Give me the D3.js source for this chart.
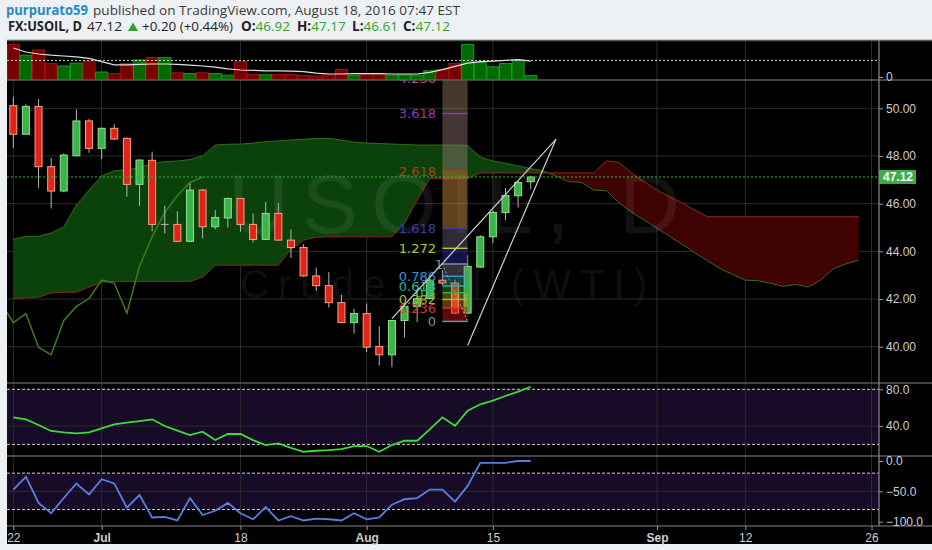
<!DOCTYPE html>
<html><head><meta charset="utf-8">
<script src="https://cdnjs.cloudflare.com/ajax/libs/d3/7.8.5/d3.min.js"></script>
<style>body{margin:0;background:#eef1f4;}svg{display:block}</style>
</head><body>
<svg id="c" width="932" height="550"></svg>
<script>
// ---------- DATA ----------
const opens  = [50.11,48.91,50.08,47.55,46.53,48.01,49.47,48.32,49.16,48.74,46.81,47.82,45.13,45.13,44.42,46.57,45.03,45.40,46.22,45.13,44.50,45.59,44.47,44.16,42.97,42.56,41.85,41.01,41.39,40.01,39.66,41.10,41.69,42.02,42.79,42.67,41.41,43.34,44.61,45.63,46.33,46.92];
const highs  = [50.49,50.17,50.39,47.92,48.11,49.96,49.55,49.20,49.33,48.78,47.86,48.18,45.91,45.68,46.85,46.62,45.73,46.25,46.24,45.59,46.08,46.03,44.92,44.30,43.32,43.13,42.18,41.60,41.81,40.85,41.12,41.83,42.39,42.86,43.21,42.82,43.84,44.68,45.73,46.66,46.99,47.17];
const lows   = [48.34,48.88,46.66,45.80,46.48,47.98,48.13,47.87,48.68,46.29,45.91,44.84,44.75,44.40,44.40,44.54,44.92,45.00,44.82,44.38,44.48,44.45,43.72,42.94,42.34,41.64,40.99,40.55,39.77,39.21,39.14,40.40,41.03,41.98,42.59,41.36,41.36,43.30,44.35,45.31,45.84,46.61];
const closes = [48.91,50.08,47.55,46.53,48.04,49.47,48.32,49.16,48.71,46.81,47.83,45.13,45.13,44.42,46.57,45.03,45.42,46.22,45.13,44.50,45.59,44.47,44.16,42.97,42.56,41.85,41.01,41.39,39.98,39.66,41.10,41.69,42.02,42.79,42.67,41.41,43.37,44.61,45.63,46.34,46.89,47.12];
const volumes = [89,62,75,41,35,42,47,20,16,41,50,56,56,18,16,18,16,12,46,14,13,14,14,11,10,13,26,12,13,13,12,13,12,23,26,41,89,44,33,41,50,11];
const volumeMA = [80,70,65,62,60,58,54,46,38,38,39,40,40,39,37,35,32,28,25,24,23,23,22,21,17,15,15,16,16,16,15,15,15,19,26,34,42,46,47,49,51,47];
const volumeRef = 49;
const rsiValues = [49.5,47.3,41.1,34.6,33.1,32.0,33.1,37.5,41.9,43.8,45.4,47.3,40.0,35.1,30.2,33.8,24.7,31.3,31.3,24.7,19.3,21.1,16.3,12.0,13.1,13.8,14.9,18.2,18.2,12.0,19.3,24.0,24.0,36.4,49.5,40.3,56.7,63.7,67.6,72.7,77.4,82.8];
const willRValues = [-47,-26,-69,-86,-61,-37,-55,-30,-37,-77,-56,-93,-92,-98,-61,-89,-82,-69,-86,-96,-76,-98,-91,-98,-95,-96,-98,-86,-96,-93,-72,-63,-61,-47,-47,-67,-41,-3,-3,-3,0,0];
const spanA = [44.50,44.63,44.63,44.77,45.03,45.94,46.57,47.16,47.38,47.41,47.52,47.69,47.76,47.79,47.85,48.00,48.46,48.49,48.50,48.54,48.60,48.63,48.67,48.70,48.73,48.74,48.67,48.58,48.54,48.52,48.50,48.48,48.46,48.46,48.46,48.46,48.44,47.95,47.79,47.70,47.58,47.47,47.37,47.16,46.93,46.89,46.57,46.54,46.04,45.64,45.31,44.97,44.63,44.30,43.94,43.61,43.28,43.03,42.79,42.77,42.66,42.53,42.61,42.50,42.81,43.28,43.48,43.64];
const spanB = [42.02,42.05,42.08,42.25,42.28,42.29,42.50,42.71,42.74,42.74,42.74,42.74,42.74,42.74,42.74,42.92,43.42,43.42,43.42,43.42,43.42,43.42,44.09,44.47,44.59,44.61,44.61,44.61,44.61,44.61,44.61,45.18,46.15,47.05,47.05,47.05,47.05,47.29,47.29,47.29,47.29,47.29,47.29,47.29,47.29,47.29,47.29,47.80,47.72,47.28,46.92,46.57,46.29,46.03,45.73,45.45,45.45,45.45,45.45,45.45,45.45,45.45,45.45,45.45,45.45,45.45,45.45,45.45];
const tickIndex  = [0,7,18,28,38,51,58,68];
const tickLabels = ["22","Jul","18","Aug","15","Sep","12","26"];
const tickBold   = [false,true,false,true,false,true,false,false];
const priceTicks = [40,42,44,46,48,50];
const rsiTicks = [80,40];
const willRTicks = [0,-50,-100];
const fibLevels = [0,0.236,0.382,0.5,0.618,0.786,1,1.272,1.618,2.618,3.618,4.236];
const fibLabels = ["0","0.236","0.382","0.5","0.618","0.786","1","1.272","1.618","2.618","3.618","4.236"];
const fibColors = ["#8a8a8a","#d83434","#a9b52c","#48a848","#2ab3a0","#3b8fd4","#8a8a8a","#b9c23c","#3a3aa8","#a8401e","#8a3db5","#c04aa0"];
const fibBandColors = ["rgba(200,25,25,0.45)","rgba(225,120,25,0.45)","rgba(170,185,40,0.40)","rgba(60,160,60,0.40)","rgba(40,160,150,0.40)","rgba(120,120,150,0.40)","rgba(35,35,140,0.55)","rgba(110,110,125,0.40)","rgba(190,130,55,0.50)","rgba(150,120,115,0.45)","rgba(150,125,105,0.45)"];
const fibStart = {i:34, p:43.47}, fibEnd = {i:36, p:41.06};
const wedge1 = [{i:30,p:41.18},{i:43,p:48.70}];
const wedge2 = [{i:36,p:40.05},{i:43,p:48.70}];
const lastPrice = 47.12;

// ---------- LAYOUT ----------
const svg = d3.select("#c");
const LEFT = 7, RIGHT = 879;
const pane = {vol:[40,80], main:[80,383], rsi:[383,456], wr:[456,526]};
const xs = d3.scaleLinear().domain([0,68]).range([13.3,871.5]);
const yP = d3.scaleLinear().domain([40,50]).range([346.7,108.3]);
const yV = d3.scaleLinear().domain([0,100]).range([80,40]);
const yR = d3.scaleLinear().domain([20,80]).range([444.4,389.3]);
const yW = d3.scaleLinear().domain([-100,0]).range([521.7,461]);
const labelFont = "'Liberation Sans', Arial, sans-serif";

svg.append("rect").attr("x",LEFT).attr("y",40).attr("width",932-LEFT).attr("height",504).attr("fill","#000");

const defs = svg.append("defs");
function clip(id, y0, y1){
  defs.append("clipPath").attr("id",id).append("rect").attr("x",LEFT).attr("y",y0).attr("width",RIGHT-LEFT).attr("height",y1-y0);
}
clip("cVol",pane.vol[0],pane.vol[1]); clip("cMain",pane.main[0],pane.main[1]);
clip("cRsi",pane.rsi[0],pane.rsi[1]); clip("cWr",pane.wr[0],pane.wr[1]);

// RSI / W%R bands
svg.append("rect").attr("x",LEFT).attr("width",RIGHT-LEFT).attr("y",yR(80)).attr("height",yR(20)-yR(80)).attr("fill","#170b28");
svg.append("rect").attr("x",LEFT).attr("width",RIGHT-LEFT).attr("y",yW(-20)).attr("height",yW(-80)-yW(-20)).attr("fill","#170b28");

// grid
const grid = svg.append("g").attr("stroke","#2c2c2c").attr("stroke-width",1);
tickIndex.forEach(t=>grid.append("line").attr("x1",xs(t)).attr("x2",xs(t)).attr("y1",40).attr("y2",526));
priceTicks.forEach(p=>grid.append("line").attr("x1",LEFT).attr("x2",RIGHT).attr("y1",yP(p)).attr("y2",yP(p)));
grid.append("line").attr("x1",LEFT).attr("x2",RIGHT).attr("y1",yR(40)).attr("y2",yR(40));
grid.append("line").attr("x1",LEFT).attr("x2",RIGHT).attr("y1",yW(-50)).attr("y2",yW(-50));

// ---------- VOLUME ----------
const gV = svg.append("g").attr("clip-path","url(#cVol)");
volumes.forEach((v,i)=>{
  const up = closes[i] >= opens[i];
  gV.append("rect").attr("x",xs(i)-6).attr("width",12).attr("y",yV(v)).attr("height",yV(0)-yV(v))
    .attr("fill", up?"#006a00":"#780000").attr("stroke", up?"#12a012":"#a51212").attr("stroke-width",1);
});
gV.append("path").datum(volumeMA).attr("fill","none").attr("stroke","#e0e0e0").attr("stroke-width",1.2)
  .attr("d",d3.line().x((d,i)=>xs(i)).y(d=>yV(d)));
svg.append("line").attr("x1",LEFT).attr("x2",RIGHT).attr("y1",yV(volumeRef)).attr("y2",yV(volumeRef))
  .attr("stroke","#d8d8d8").attr("stroke-dasharray","2,2");

// ---------- MAIN ----------
const gM = svg.append("g").attr("clip-path","url(#cMain)");
const idx = d3.range(spanA.length);
const areaAB = d3.area().x(i=>xs(i)).y0(i=>yP(spanA[i])).y1(i=>yP(spanB[i]));
defs.append("clipPath").attr("id","aboveB").append("path")
  .attr("d", d3.area().x(i=>xs(i)).y0(pane.main[0]).y1(i=>yP(spanB[i]))(idx));
defs.append("clipPath").attr("id","belowB").append("path")
  .attr("d", d3.area().x(i=>xs(i)).y0(i=>yP(spanB[i])).y1(pane.main[1]+40)(idx));
gM.append("g").attr("clip-path","url(#aboveB)").append("path").attr("d",areaAB(idx)).attr("fill","#0b420b");
gM.append("g").attr("clip-path","url(#belowB)").append("path").attr("d",areaAB(idx)).attr("fill","#3e0202");
gM.append("path").datum(idx).attr("fill","none").attr("stroke","#3c6a14").attr("stroke-width",1)
  .attr("d",d3.line().x(i=>xs(i)).y(i=>yP(spanA[i])));
gM.append("path").datum(idx).attr("fill","none").attr("stroke","#8c2e12").attr("stroke-width",1)
  .attr("d",d3.line().x(i=>xs(i)).y(i=>yP(spanB[i])));

// watermark
gM.append("text").attr("x",228).attr("y",233).attr("font-family",labelFont).attr("font-size",84)
  .attr("textLength",452).attr("lengthAdjust","spacing").attr("fill","rgba(255,255,255,0.07)").text("USOIL, D");
gM.append("text").attr("x",240).attr("y",298).attr("font-family",labelFont).attr("font-size",40)
  .attr("textLength",407).attr("lengthAdjust","spacing").attr("fill","rgba(255,255,255,0.07)").text("Crude Oil (WTI)");

// lagging span (closes shifted back 26 bars)
const lag = closes.slice(25).map((c,k)=>({i:k-1, v:c}));
gM.append("path").datum(lag).attr("fill","none").attr("stroke","#3f7a1e").attr("stroke-width",1.5)
  .attr("d",d3.line().x(d=>xs(d.i)).y(d=>yP(d.v)));

// candles
closes.forEach((c,i)=>{
  const o = opens[i], up = c >= o, x = xs(i);
  gM.append("line").attr("x1",x).attr("x2",x).attr("y1",yP(highs[i])).attr("y2",yP(lows[i])).attr("stroke","#b5b5b5").attr("stroke-width",1);
  if (Math.abs(c-o) < 0.02) {
    gM.append("line").attr("x1",x-4).attr("x2",x+4).attr("y1",yP(c)).attr("y2",yP(c)).attr("stroke","#b5b5b5");
  } else {
    const y0 = yP(Math.max(o,c)), y1 = yP(Math.min(o,c));
    gM.append("rect").attr("x",x-3.5).attr("width",7).attr("y",y0).attr("height",Math.max(1,y1-y0))
      .attr("fill", up?"#3bb54a":"#e2231a").attr("stroke", up?"#8ee08e":"#f4a582").attr("stroke-width",1);
  }
});

// fibonacci
const fibY = l => yP(fibEnd.p + l*(fibStart.p - fibEnd.p));
const fx0 = xs(fibStart.i), fx1 = xs(fibEnd.i);
gM.append("rect").attr("x",fx0).attr("width",fx1-fx0).attr("y",pane.main[0]).attr("height",fibY(4.236)-pane.main[0]+0.5).attr("fill","rgba(150,125,105,0.45)");
for (let k=0;k<fibLevels.length-1;k++){
  gM.append("rect").attr("x",fx0).attr("width",fx1-fx0).attr("y",fibY(fibLevels[k+1])).attr("height",fibY(fibLevels[k])-fibY(fibLevels[k+1]))
    .attr("fill",fibBandColors[k]);
}
fibLevels.forEach((l,k)=>{
  gM.append("line").attr("x1",fx0).attr("x2",fx1).attr("y1",fibY(l)).attr("y2",fibY(l)).attr("stroke",fibColors[k]).attr("stroke-width",1.5);
  gM.append("text").attr("x", l===1?443:436).attr("y",fibY(l)).attr("dy","0.36em").attr("text-anchor","end")
    .attr("font-family","'DejaVu Sans', Verdana, sans-serif").attr("font-size",13).attr("fill",fibColors[k]).text(fibLabels[k]);
});
gM.append("line").attr("x1",fx0).attr("y1",yP(fibStart.p)).attr("x2",fx1).attr("y2",yP(fibEnd.p))
  .attr("stroke","#9a9a9a").attr("stroke-dasharray","2,2");

// wedge
[wedge1,wedge2].forEach(w=>gM.append("path").datum(w).attr("fill","none").attr("stroke","#d0d0d0").attr("stroke-width",1.2)
  .attr("d",d3.line().x(d=>xs(d.i)).y(d=>yP(d.p))));

// price line
svg.append("line").attr("x1",LEFT).attr("x2",RIGHT).attr("y1",yP(lastPrice)).attr("y2",yP(lastPrice))
  .attr("stroke","#3fae3f").attr("stroke-dasharray","2,2").attr("stroke-width",1);

// ---------- RSI ----------
[80,20].forEach(v=>svg.append("line").attr("x1",LEFT).attr("x2",RIGHT).attr("y1",yR(v)).attr("y2",yR(v)).attr("stroke","#cfcfcf").attr("stroke-dasharray","3,2"));
svg.append("g").attr("clip-path","url(#cRsi)").append("path").datum(rsiValues).attr("fill","none").attr("stroke","#3ddc35").attr("stroke-width",1.8)
  .attr("d",d3.line().x((d,i)=>xs(i)).y(d=>yR(d)));

// ---------- Williams %R ----------
[-20,-80].forEach(v=>svg.append("line").attr("x1",LEFT).attr("x2",RIGHT).attr("y1",yW(v)).attr("y2",yW(v)).attr("stroke","#cfcfcf").attr("stroke-dasharray","3,2"));
svg.append("g").attr("clip-path","url(#cWr)").append("path").datum(willRValues).attr("fill","none").attr("stroke","#5a7fe0").attr("stroke-width",1.8)
  .attr("d",d3.line().x((d,i)=>xs(i)).y(d=>yW(d)));

// pane separators
const sep = svg.append("g").attr("stroke","#5a5a5a").attr("stroke-width",1.5);
[80,383,456,526].forEach(y=>sep.append("line").attr("x1",LEFT).attr("x2",932).attr("y1",y).attr("y2",y));
sep.append("line").attr("x1",LEFT).attr("x2",932).attr("y1",40.5).attr("y2",40.5);
svg.append("line").attr("x1",RIGHT).attr("x2",RIGHT).attr("y1",40).attr("y2",526).attr("stroke","#8a8a8a").attr("stroke-width",1.2);

// ---------- AXES ----------
function styleAxis(g){
  g.select(".domain").remove();
  g.selectAll("line").attr("stroke","#9a9a9a");
  g.selectAll("text").attr("fill","#cfcfcf").attr("font-family",labelFont).attr("font-size",12);
}
svg.append("g").attr("transform",`translate(${RIGHT},0)`)
  .call(d3.axisRight(yP).tickValues(priceTicks).tickFormat(d3.format(".2f")).tickSize(4).tickPadding(3)).call(styleAxis);
svg.append("g").attr("transform",`translate(${RIGHT},0)`)
  .call(d3.axisRight(yR).tickValues(rsiTicks).tickFormat(d3.format(".1f")).tickSize(4).tickPadding(3)).call(styleAxis);
svg.append("g").attr("transform",`translate(${RIGHT},0)`)
  .call(d3.axisRight(yW).tickValues(willRTicks).tickFormat(d3.format(".1f")).tickSize(4).tickPadding(3)).call(styleAxis);
svg.append("g").attr("transform",`translate(${RIGHT},0)`)
  .call(d3.axisRight(d3.scaleLinear().domain([0,100]).range([77,37])).tickValues([0]).tickSize(4).tickPadding(3)).call(styleAxis);

const xa = svg.append("g").attr("transform","translate(0,526)")
  .call(d3.axisBottom(xs).tickValues(tickIndex).tickFormat((d,k)=>tickLabels[k]).tickSize(4).tickPadding(3)).call(styleAxis);
xa.selectAll(".tick text").attr("font-weight",(d,k)=>tickBold[k]?"bold":"normal").attr("font-size",12);

// last price label
svg.append("rect").attr("x",RIGHT).attr("y",yP(lastPrice)-7).attr("width",37).attr("height",14).attr("fill","#3cae45");
svg.append("text").attr("x",RIGHT+19).attr("y",yP(lastPrice)).attr("dy","0.36em").attr("text-anchor","middle")
  .attr("font-family",labelFont).attr("font-size",12).attr("font-weight","bold").attr("fill","#fff").text(lastPrice.toFixed(2));

// ---------- HEADER ----------
const hf = "'Open Sans','Noto Sans',sans-serif";
function seg(x, y, txt, opt){
  const t = svg.append("text").attr("x",x).attr("y",y).attr("font-family",hf).attr("font-size",opt.size||13.5)
    .attr("font-weight",opt.bold?"bold":"normal").attr("fill",opt.fill||"#333").text(txt);
  if (opt.w) t.attr("textLength",opt.w).attr("lengthAdjust","spacingAndGlyphs");
  return t;
}
seg(6,15,"purpurato59",{bold:true,fill:"#2b87c4",w:82});
seg(93,15,"published on TradingView.com, August 18, 2016 07:47 EST",{fill:"#3a3a3a",w:367});
seg(8,31,"FX:USOIL, D",{bold:true,fill:"#222",w:74});
seg(87,31,"47.12",{fill:"#222",w:35});
svg.append("path").attr("d","M128,31 L138,31 L133,22.5 Z").attr("fill","#2ea02e");
seg(142,31,"+0.20 (+0.44%)",{fill:"#222",w:91});
const ohlc = [["O:",opens[41],241],["H:",highs[41],297],["L:",lows[41],352],["C:",closes[41],403]];
ohlc.forEach(([k,v,x])=>{
  const t = svg.append("text").attr("x",x).attr("y",31).attr("font-family",hf).attr("font-size",13.5);
  t.append("tspan").attr("font-weight","bold").attr("fill","#222").text(k);
  t.append("tspan").attr("fill","#2ea02e").text(v.toFixed(2));
});
</script>
</body></html>
